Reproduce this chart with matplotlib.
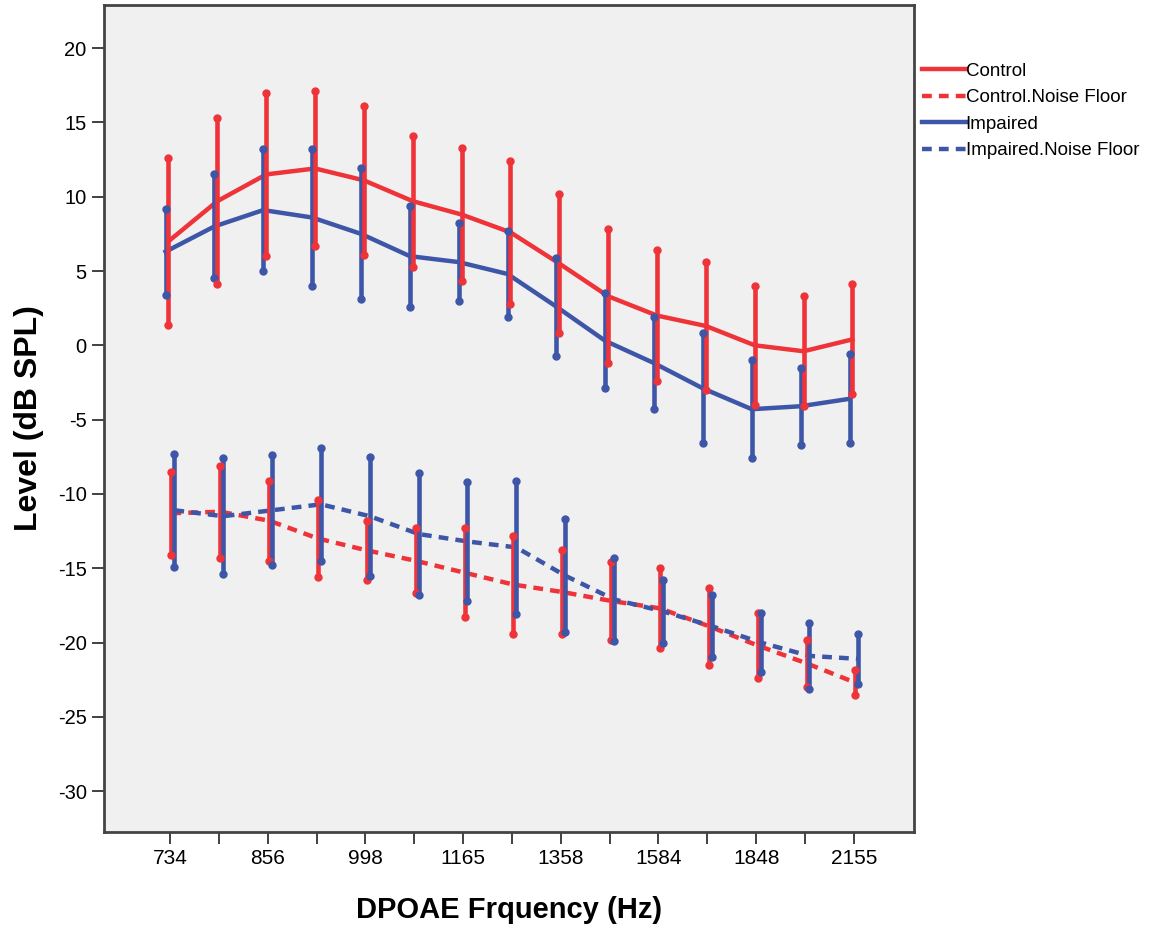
import matplotlib
matplotlib.use("Agg")
import matplotlib.pyplot as plt
from matplotlib.lines import Line2D
import numpy as np

plt.rcParams['font.family'] = ['Liberation Sans', 'DejaVu Sans']

# DPOAE frequencies (Hz); only every other one carries a tick label
freqs = [734, 792, 856, 924, 998, 1078, 1165, 1258, 1358, 1467, 1584, 1711, 1848, 1996, 2155]
tick_labels = ["734", "", "856", "", "998", "", "1165", "", "1358", "", "1584", "", "1848", "", "2155"]

# Mean DPOAE levels (dB SPL) and error-bar half widths
control_mean = [7.0, 9.7, 11.5, 11.9, 11.1, 9.7, 8.8, 7.6, 5.5, 3.3, 2.0, 1.3, 0.0, -0.4, 0.4]
control_err = [5.6, 5.6, 5.5, 5.2, 5.0, 4.4, 4.5, 4.8, 4.7, 4.5, 4.4, 4.3, 4.0, 3.7, 3.7]
impaired_mean = [6.3, 8.0, 9.1, 8.6, 7.5, 6.0, 5.6, 4.8, 2.6, 0.3, -1.2, -2.9, -4.3, -4.1, -3.6]
impaired_err = [2.9, 3.5, 4.1, 4.6, 4.4, 3.4, 2.6, 2.9, 3.3, 3.2, 3.1, 3.7, 3.3, 2.6, 3.0]

# Noise floor levels (dB SPL) and error-bar half widths
control_nf_mean = [-11.3, -11.2, -11.8, -13.0, -13.8, -14.5, -15.3, -16.1, -16.6, -17.2, -17.7, -18.9, -20.2, -21.4, -22.7]
control_nf_err = [2.8, 3.1, 2.7, 2.6, 2.0, 2.2, 3.0, 3.3, 2.8, 2.6, 2.7, 2.6, 2.2, 1.6, 0.85]
impaired_nf_mean = [-11.1, -11.5, -11.1, -10.7, -11.5, -12.7, -13.2, -13.6, -15.5, -17.1, -17.9, -18.9, -20.0, -20.9, -21.1]
impaired_nf_err = [3.8, 3.9, 3.7, 3.8, 4.0, 4.1, 4.0, 4.5, 3.8, 2.8, 2.1, 2.1, 2.0, 2.2, 1.7]

RED = '#EE3339'
BLUE = '#3E56A8'
DASH = (0, (2.2, 1.6))

fig = plt.figure(figsize=(11.62, 9.26), dpi=100)
fig.patch.set_facecolor('white')
ax = fig.add_axes([104 / 1162, 1 - 832 / 926, (914 - 104) / 1162, (832 - 5) / 926])
ax.set_facecolor('#F0F0F0')

x = np.arange(len(freqs))

series = [
    (impaired_mean, impaired_err, BLUE, '-', -0.09),
    (control_mean, control_err, RED, '-', -0.03),
    (control_nf_mean, control_nf_err, RED, DASH, 0.03),
    (impaired_nf_mean, impaired_nf_err, BLUE, DASH, 0.09),
]

for mean, err, color, ls, off in series:
    ax.plot(x + off, mean, color=color, lw=3.2, linestyle=ls, zorder=3)
for mean, err, color, ls, off in series:
    xs = x + off
    m = np.array(mean)
    e = np.array(err)
    ax.vlines(xs, m - e, m + e, color=color, lw=3.3, zorder=4)
    ax.plot(xs, m + e, 'o', color=color, ms=5, zorder=5)
    ax.plot(xs, m - e, 'o', color=color, ms=5, zorder=5)

ax.set_xlim(-1.35, 15.23)
ax.set_ylim(-32.75, 22.9)
ax.set_xticks(x)
ax.set_xticklabels(tick_labels, fontsize=15)
ax.set_yticks(np.arange(-30, 21, 5))
ax.set_yticklabels([str(v) for v in range(-30, 21, 5)], fontsize=14.5)
ax.tick_params(axis='both', length=8.5, width=1.3, color='#333333', pad=4)

for sp in ax.spines.values():
    sp.set_linewidth(2.0)
    sp.set_color('#444444')

ax.set_xlabel('DPOAE Frquency (Hz)', fontsize=21, fontweight='bold', labelpad=20)
ax.set_ylabel('Level (dB SPL)', fontsize=23, fontweight='bold', labelpad=10)

handles = [
    Line2D([], [], color=RED, lw=3.2, linestyle='-'),
    Line2D([], [], color=RED, lw=3.2, linestyle=DASH),
    Line2D([], [], color=BLUE, lw=3.2, linestyle='-'),
    Line2D([], [], color=BLUE, lw=3.2, linestyle=DASH),
]
labels = ['Control', 'Control.Noise Floor', 'Impaired', 'Impaired.Noise Floor']
fig.legend(handles, labels, loc='upper left', bbox_to_anchor=(914 / 1162, 1 - 55 / 926),
           frameon=False, fontsize=13.5, handlelength=2.35, handletextpad=0.0,
           labelspacing=0.5, borderaxespad=0)

fig.savefig('out.png', dpi=100, facecolor='white')
